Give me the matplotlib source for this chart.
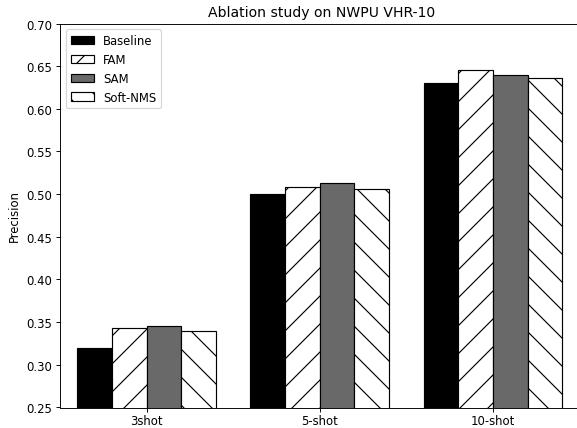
import numpy as np
import matplotlib
matplotlib.use("Agg")
import matplotlib.pyplot as plt

groups = ["3shot", "5-shot", "10-shot"]
baseline = [0.320, 0.500, 0.630]
fam = [0.343, 0.508, 0.646]
sam = [0.345, 0.513, 0.640]
soft_nms = [0.340, 0.506, 0.636]

dpi = 84
fig = plt.figure(figsize=(577 / dpi, 429 / dpi), dpi=dpi)
ax = fig.add_axes([60 / 577, 20.5 / 429, 523 / 577, 384 / 429])

x = np.arange(len(groups))
w = 0.2
ax.bar(x - 1.5 * w, baseline, w, color="black", edgecolor="black", label="Baseline")
ax.bar(x - 0.5 * w, fam, w, color="white", edgecolor="black", hatch="/", label="FAM")
ax.bar(x + 0.5 * w, sam, w, color="dimgray", edgecolor="black", label="SAM")
ax.bar(x + 1.5 * w, soft_nms, w, color="white", edgecolor="black", hatch="\\", label="Soft-NMS")

ax.set_xticks(x)
ax.set_xticklabels(groups)
ax.tick_params(axis="x", pad=2.5)
ax.set_xlim(-0.5, 2.52)
ax.set_ylim(0.25, 0.70)
ax.set_ylabel("Precision")
ax.set_title("Ablation study on NWPU VHR-10")
ax.legend(loc="upper left")

fig.savefig("out.png", dpi=dpi)
